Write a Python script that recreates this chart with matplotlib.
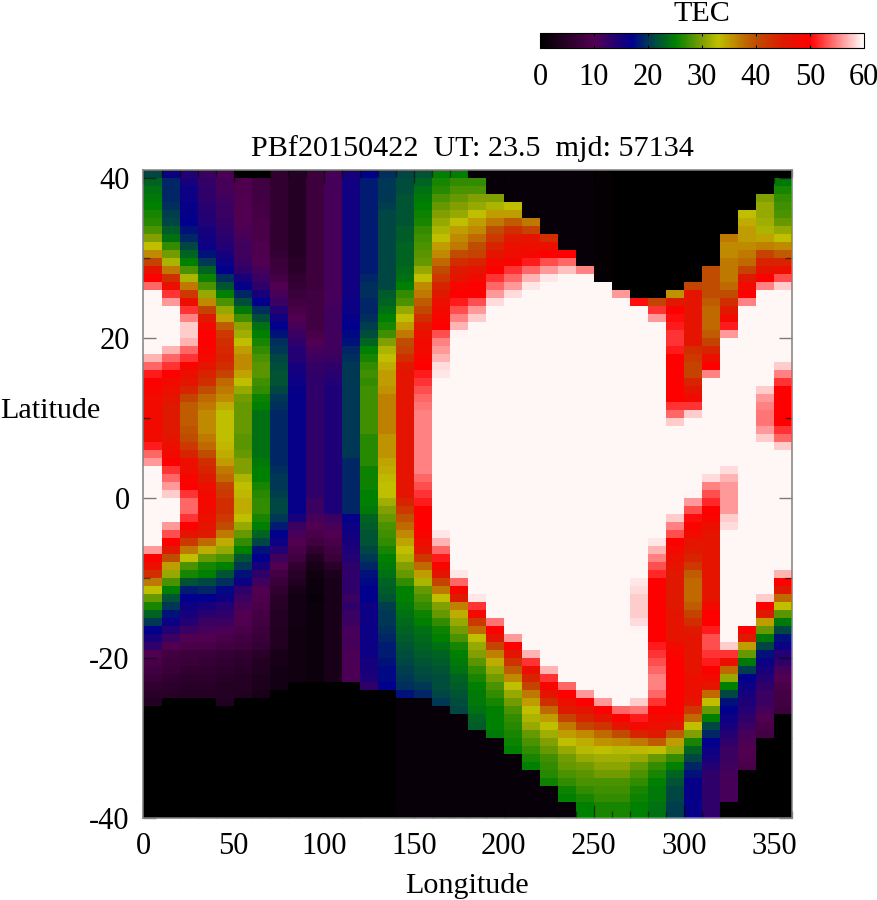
import numpy as np
import matplotlib
matplotlib.use("Agg")
import matplotlib.pyplot as plt
from matplotlib.colors import LinearSegmentedColormap
from matplotlib.ticker import MultipleLocator

plt.rcParams['font.family'] = ['Liberation Serif', 'DejaVu Serif']
plt.rcParams['axes.unicode_minus'] = False

W = 59.6  # saturated white area

title = "PBf20150422  UT: 23.5  mjd: 57134"
cbar_label = "TEC"
x_label = "Longitude"
y_label = "Latitude"
cbar_ticks = [0, 10, 20, 30, 40, 50, 60]

# one list per 10-degree longitude column, 81 one-degree cells from north to south
lon_000 = [21,23,24,24.5,25,26,26.5,28,30,33,36,41,46,50,54]+[W]*8+[57,54,51]+[50,49]+[48]*6+[51,54,56]+[W]*10+[56,50,47,43,37,33,29]+[26,23,20,17,15,13,10,9,8,7,6,5,4.5]+[0]*14
lon_010 = [16,19,19,19,19.5,20.5,21,22.5,24,27,29.5,32,37,43,47,52,56]+[W]*5+[57,54,52,50]+[48,47,46,45,45,45,45,46,47,48,50,52,54,56,58]+[W]*3+[56,53,50,45,40,35,31,28,25,22]+[20,18,16,14,12,10,8,7.5,7,6,5.5,5]+[0]*15
lon_020 = [14,15,16,16,16.5,16.5,17,18,19,21,23,25,28,32,37,42,47,52,55,58,58,57,54,52,49,47]+[46,44,41,39,39,39,39.5,40,42,44,47,47.5,49,50,52,54,54,52,50,46,42,37,33,28,26,22,18.5,17]+[16,15,14,12,10,9,7.5,7,6,5.5,5,4.5]+[0]*15
lon_030 = [12,12.5,13,13,13.5,14,14,15,15.5,16,18,20,23,25.5,28,31,36,41,45,48,50,50,49,48,46,44]+[43,40,38,37,36,36,36,37,38,40,43,44,45,47,48,48.5,48,47,46,45,38,34,29,26,25,21,19,17]+[15,13.5,12,11,10,9,7,6.5,6,5.5,5,4.5]+[0]*15
lon_040 = [10.5,11,11,11.5,12,12,12.5,13,13.5,14,15,16,17,19.5,22,25,28,31,34.5,39,42,43,43.5,44,43,41]+[38,37,36,34,33,33,33,33,33.5,34,35,37,38,41,42,43,43,42,40,37,34,31,28,25,22,19.5,17.5,16]+[14,13,12,10.5,9,8,6.5,6,5.5,5,4.5,4.5,4]+[0]*14
lon_050 = [0,9.5,9.5,10,10,10,10,10.5,11,11.5,11.5,12,13,15,16.5,19,21.5,24.5,27.5,30.5,31.5,33,35,36,36,34.5]+[33,31,29.5,29,29,29,29,28.5,28.5,29,30,30,32,33,33.5,34,34,33,31,29,27,25,22,20,18,16,13,12]+[11,10,10,9,8,7.5,6,5.5,5,4.5,4.5,4]+[0]*15
lon_060 = [0,8,8,8,8.5,8.5,9,9,9,9.5,9.5,10,11,12,13,15,17,19.5,21.5,24,25,26,27,28,28.5,28.5]+[27.5,27,25.5,25,24,24,24,24,24,24,24.5,25,25,26,26.5,27,27,26,25,23,21,18,17,15,13,11.5,10,9.5]+[9,8.5,8,7.5,7,6.5,5,4,4,3.5,3.5,3]+[0]*15
lon_070 = [6]*10+[6.5,7,7.5,8.5,10,11,12,14,15.5,17,18,19.5,20,21,21.5,22]+[22,21,20,19.5]+[19]*7+[19.5,20,20,20.5,21,21,20,18.5,17,16,14,11.5,10,8.5,7,6,5]+[5,4.5,4.5,4,4,4,3,3,2.5,2.5,2.5]+[0]*16
lon_080 = [4.5]*10+[4.5,5,5,6,6.5]+[7,8,9,10,11,12,13,14,14,15,15.5]+[16,16.5,16.5]+[16.5]*14+[15,12,11,10,9,8,6,5,4,3,2.5]+[2.5,2.5,2.5,2,2,2,2,2,2,2]+[0]*17
lon_090 = [7.5]*15+[8,8,8,8,8]+[9,10,11,12,12.5,13]+[13]*15+[12,12,11,10,9,8,6,4,3,2,1.5,1.5,1]+[1.5]*10+[0]*17
lon_100 = [11]*17+[11.5]*6+[12,13,13.5]+[14]+[14.5]*16+[12,11,10,9,8,7,5,3.5,3,3,3]+[3]*10+[0]*17
lon_110 = [15]+[15.5]*15+[16,16,16.5,17,17.5,18,19,19.5,20,20]+[20]*10+[19]*7+[16.5,16,15.5,15,14.5,14,13,13,13,13,12]+[13,12,12,11,11,11,10.5,10.5,10.5,10.5]+[0]*17
lon_120 = [17]+[18.5]*12+[19,19.5,19.5,19,19,19.5,20.5,21.5,23,25,26,27,27.5]+[27]+[27.5]*6+[26.5]*4+[25.5]*3+[25,25,24.5,23,22.5,22,22,21,20,19,18,17.5,17,17]+[16]*7+[15,15,14.5,13]+[0]*16
lon_130 = [19.5,20,20,20,20.5]+[21]*10+[22.5,23,24,25,26,27.5,30,32,33,34,35]+[35,35.5]+[36.5]*5+[35.5]*3+[34.5,34,33.5,33,33,31.5,30,29,28,27.5,27,26,25,24.5,24,23,22.5,22]+[20.5,20,20,19.5,19,18.5,18.5,18,17.5,17.5,17]+[0]*16
lon_140 = [21,21.5,21.5,22,22,22,22,22.5,22.5,23,23,23,23.5,24,25,27,28,31,33,35,37,40,41,43,45,46]+[46]*15+[44,42,39.5,38,36,34.5,33,32,30,29,27,25,25]+[24.5,24,23.5,23,22.5,22,21.5,21,20.5,20,19.5,18]+[1]*15
lon_150 = [22,23,24,24.5,25,25.5,26,27,27.5,28,28.5,29,31,33,36,37,39,40.5,43,45,47,48,48,49,50,51]+[52,53,54,54.5]+[55]*8+[54,53,52,51,50,50,50,49,47.5,46,42,38,35,32,29,28]+[27,25.5,25,24,23.5,23,22.5,22,21.5,21,20,19]+[1]*15
lon_160 = [25,26,26.5,28,29,30,31,32,33,35,36,38,40,42,44,45,47,48,49,50,53,55,56,57,58.5,59]+[W]*19+[59,57,54,51,49,46,41,37,33]+[30,29,27,25.5,25,24,23,22.5,22,21.5,21.5,21,20]+[1]*14
lon_170 = [25,27,28,29,30,31,33,35,36,37,40,43,45,46,49,50,51,53,55,57,59.5]+[W]*5+[W]*24+[59,54,49,45]+[36.5,34,31,29.5,28,26,25,24.5,24,23,22.5,22,21.5,21]+[1]*13
lon_180 = [1,27,28,30,31,33,35,36,38,40,41,44,46,48,50,50,53,56,58]+[W]*7+[W]*27+[59]+[52,48,42,38,33,31,30,28.5,27,26,25,24.5,24.5,24,23,22.5]+[1]*11
lon_190 = [1,1,1,30,32,35,37,40,42,44,46,48,50,52,54,56,58.5]+[W]*9+[W]*28+[W,W,54.5,50,46,41,36.5,34,31,29.5,28,27,26,25,25,25,24.5]+[1]*10
lon_200 = [1]*4+[33,35,39,43,45,47,47.5,49,52,54,56,58.5]+[W]*10+[W]*28+[W]*4+[56,50,46,42.5,39,36,33,31,29.5,28,27,26.5,26,25.5,25]+[1]*8
lon_210 = [1]*6+[37,41,46,47,48,51,54,57,59]+[W]*11+[W]*28+[W]*6+[57,52,47,44,41,37,35,33,32,31,29,28,27,26,25]+[1]*6
lon_220 = [1]*8+[43,47,50,53,56,59]+[W]*12+[W]*28+[W]*8+[57,52,49,46,43,38,35,33,31.5,30,29,27.5,27,26.5,25.5]+[1]*4
lon_230 = [1]*10+[50,54,57.5]+[W]*13+[W]*28+[W]*10+[54,50,47,45,41,37,35,33,31,29.5,29,28,27,25.5,25]+[1]*2
lon_240 = [1]*12+[55]+[W]*13+[W]*28+[W]*11+[56,50,46,44,41,36,34,32.5,31,29.5,28.5,28,27,26,25,25]
lon_250 = [0.5]*14+[W]*12+[W]*28+[W]*12+[56,50,46,42.5,38,35.5,33,31.5,30.5,29.5,28,27.5,27,26,26]
lon_260 = [0]*15+[56]+[W]*10+[W]*28+[W]*13+[54,50,46,40,36,32.5,31.5,30.5,29.5,28,27.5,27,26,26]
lon_270 = [0]*16+[50.5]+[W]*9+[W]*25+[59,58.5,58]+[58,58,58.5,59.5]+[W]*8+[58,54.5,51,48.5,44,37,33.5,31,29,28,27,26,25.5,25,25]
lon_280 = [0]*16+[41,52,56]+[W]*7+[W]*20+[59,57,55,53,51.5,50,50,50]+[50]*5+[51,52,53,54,55,55,54,52,50,48,47,45,39,33,29,27,26,25,24.5,24.5,24,24]
lon_290 = [0]*15+[35.5,45,50,50.5,51,52,52,51,50,50,50]+[50,50,50,52,54,58]+[W]*11+[58,55,53,50,48,47,46,45.5,45,45,45]+[45,46,46,46,46,48,49,50,50,50,50,50,50,50,48,46,39,35,31,27,25,23,22,21,21,20.5,20.5]
lon_300 = [0]*14+[41,46,46,46,46,46,46,46,43,42,41,41]+[44,46,48,52,58]+[W]*9+[59.5,56,53,50.5,49,48,46,45,44,42,39,38,38,38]+[39,41,43,45,46,46,46,46,46,47,47,47,46,42,38,33,30,26,23,21,19,18]+[16.5]*5
lon_310 = [0]*12+[40,40,40,40,39,38,38,38,39,41,44,47,50,55]+[W]*12+[58.5,55,53,51.5,50,49,47]+[46]*9+[48,50,50,51,53,53,52,51,50,48,46,38,33,29,25,21,19,17,16,15,14]+[13]*6
lon_320 = [0]*8+[37,36,36,37,37,37,38,40,43,45,48,51,56]+[W]*5+[W]*11+[58.5,57,56,56,56,56,58,58.5]+[W]*9+[W]*5+[58,52,47,38,31,25,21,18,17,16,15,14,13,12,12,11.5,11,11,11,11]+[0]*2
lon_330 = [0]*5+[33,34,35,35,36,37,38,41,45,48,50,55]+[W]*9+[W]*28+[W]*3+[50,45,35,29,24.5,20.5,17,16,15,14.5,14,13,12,11,10.5,10,9.5,9]+[0]*6
lon_340 = [0]*3+[30,31,31,31.5,32,34.5,36.5,41,44,46,50,55]+[W]*11+[W,58,56,55,54.5,54.5,56,58]+[W]*19+[58]+[50,45,35,29,24.5,21,18,16,15,14,13,12,12,11,10,9,8.5]+[0]*10
lon_350 = [0,24.5,26,27,27.5,28,29,31,33,36,39,44,47,53,58]+[W]*9+[58,55]+[52,50,50,50,50,50,52,54,58]+[W]*15+[57,50,45,38]+[33,28.5,24.5,21,18,16,14,13,11,10,9,8.5,8,7.5]+[0]*13

columns = [lon_000, lon_010, lon_020, lon_030, lon_040, lon_050, lon_060, lon_070, lon_080,
           lon_090, lon_100, lon_110, lon_120, lon_130, lon_140, lon_150, lon_160, lon_170,
           lon_180, lon_190, lon_200, lon_210, lon_220, lon_230, lon_240, lon_250, lon_260,
           lon_270, lon_280, lon_290, lon_300, lon_310, lon_320, lon_330, lon_340, lon_350]
for i, c in enumerate(columns):
    assert len(c) == 81, (i * 10, len(c))
tec = np.array(columns, dtype=float).T

lon_edges = np.arange(0, 370, 10)
lat_edges = np.arange(41, -41, -1)

anchors = [(0, (0, 0, 0)), (10, (.32, 0, .32)), (13, (.18, 0, .42)), (17, (0, 0, .55)),
           (20, (0, .22, .33)), (25, (0, .5, 0)), (30, (.5, .62, 0)), (33, (.75, .75, 0)),
           (37, (.75, .47, 0)), (40, (.75, .3, 0)), (45, (.87, .1, 0)), (50, (1, 0, 0)),
           (60, (1, 1, 1))]
cmap = LinearSegmentedColormap.from_list("tec", [(v / 60, c) for v, c in anchors], N=512)

fig = plt.figure(figsize=(8.78, 9), dpi=100)
FW, FH = 878, 900
def rect(x0, y0, x1, y1):
    return [x0 / FW, 1 - y1 / FH, (x1 - x0) / FW, (y1 - y0) / FH]

ax = fig.add_axes(rect(143.5, 169.5, 792, 818))
mesh = ax.pcolormesh(lon_edges, lat_edges, tec, cmap=cmap, vmin=0, vmax=60, shading='flat',
                     edgecolors='none', linewidth=0, rasterized=True)
ax.set_xlim(0, 360)
ax.set_ylim(-40, 41)
ax.xaxis.set_major_locator(MultipleLocator(50))
ax.xaxis.set_minor_locator(MultipleLocator(10))
ax.yaxis.set_major_locator(MultipleLocator(20))
ax.yaxis.set_minor_locator(MultipleLocator(10))
tc = (0, 0, 0, 0.5)
ax.tick_params(which='major', direction='in', length=9.4, width=1.0, color=tc, top=True, right=True,
               labelsize=22, pad=10, labelcolor='black')
ax.tick_params(which='minor', direction='in', length=4.7, width=1.0, color=tc, top=True, right=True)
for s in ax.spines.values():
    s.set_color('#808080')
    s.set_linewidth(1.1)

fig.text(472 / FW, 1 - 149 / FH, title, ha='center', va='center', fontsize=21.7)
fig.text(0 / FW, 1 - 411 / FH, y_label, ha='left', va='center', fontsize=21.7)
fig.text(467 / FW, 1 - 886 / FH, x_label, ha='center', va='center', fontsize=21.7)

cax = fig.add_axes(rect(540, 33, 864, 48))
cb = fig.colorbar(mesh, cax=cax, orientation='horizontal')
cb.set_ticks(cbar_ticks)
cb.outline.set_edgecolor('black')
cb.outline.set_linewidth(0.8)
cax.tick_params(direction='in', length=2.5, width=0.7, color='black', top=True, labelsize=22, pad=11)
fig.text(702 / FW, 1 - 21 / FH, cbar_label, ha='center', va='baseline', fontsize=21.7)

fig.savefig("out.png", dpi=100)
